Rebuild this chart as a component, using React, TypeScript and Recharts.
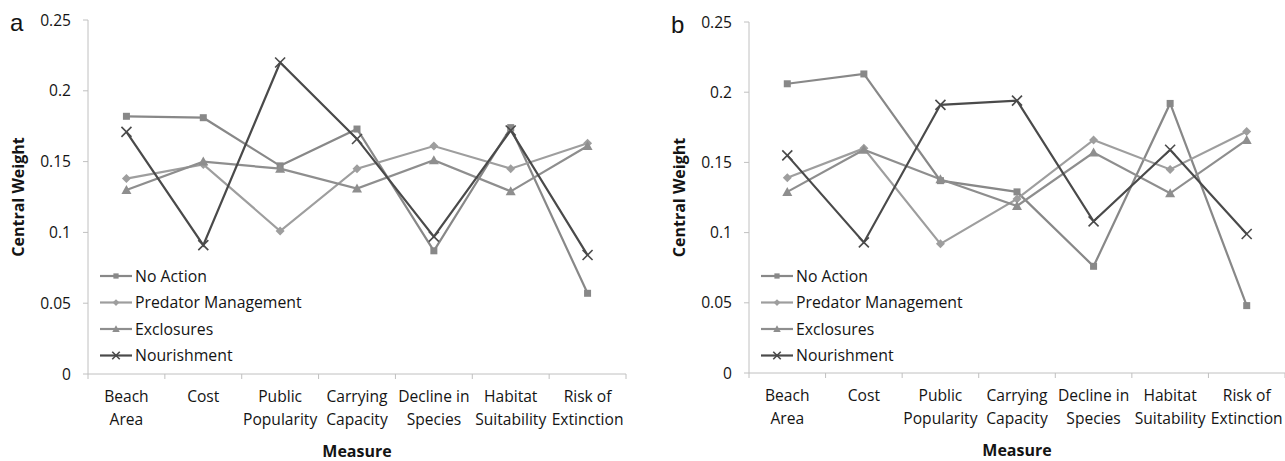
import React from "react";
import { LineChart, Line, XAxis, YAxis, Label } from "recharts";

// categories on the x axis, and how each tick label breaks into lines
const categories = [
  "Beach Area",
  "Cost",
  "Public Popularity",
  "Carrying Capacity",
  "Decline in Species",
  "Habitat Suitability",
  "Risk of Extinction",
];
const tickLines = [
  ["Beach", "Area"],
  ["Cost"],
  ["Public", "Popularity"],
  ["Carrying", "Capacity"],
  ["Decline in", "Species"],
  ["Habitat", "Suitability"],
  ["Risk of", "Extinction"],
];
const yTicks = [0, 0.05, 0.1, 0.15, 0.2, 0.25];
const seriesNames = ["No Action", "Predator Management", "Exclosures", "Nourishment"];

// panel a
const aNoAction = [0.182, 0.181, 0.147, 0.173, 0.087, 0.174, 0.057];
const aPredator = [0.138, 0.148, 0.101, 0.145, 0.161, 0.145, 0.163];
const aExclosures = [0.130, 0.150, 0.145, 0.131, 0.151, 0.129, 0.161];
const aNourishment = [0.171, 0.091, 0.220, 0.166, 0.097, 0.172, 0.084];

// panel b
const bNoAction = [0.206, 0.213, 0.137, 0.129, 0.076, 0.192, 0.048];
const bPredator = [0.139, 0.160, 0.092, 0.124, 0.166, 0.145, 0.172];
const bExclosures = [0.129, 0.159, 0.138, 0.119, 0.157, 0.128, 0.166];
const bNourishment = [0.155, 0.093, 0.191, 0.194, 0.108, 0.159, 0.099];

const FONT = "'Open Sans', sans-serif";
const AXIS = "#c0c0c0";
const TEXT = "#141414";

const KEYS = ["noAction", "predator", "exclosures", "nourishment"];
const COLORS = ["#888888", "#9e9e9e", "#8e8e8e", "#4a4a4a"];
const SHAPES = ["square", "diamond", "triangle", "cross"];

const Marker = ({ shape, cx, cy, color, s = 1 }: any) => {
  if (cx == null || cy == null) return null;
  if (shape === "square")
    return <rect x={cx - 3.5 * s} y={cy - 3.5 * s} width={7 * s} height={7 * s} fill={color} />;
  if (shape === "diamond") {
    const r = 4.5 * s;
    return (
      <polygon
        points={`${cx},${cy - r} ${cx + r},${cy} ${cx},${cy + r} ${cx - r},${cy}`}
        fill={color}
      />
    );
  }
  if (shape === "triangle")
    return (
      <polygon
        points={`${cx},${cy - 5 * s} ${cx + 5 * s},${cy + 4 * s} ${cx - 5 * s},${cy + 4 * s}`}
        fill={color}
      />
    );
  const r = 5 * s;
  return (
    <g stroke={color} strokeWidth={1.6}>
      <line x1={cx - r} y1={cy - r} x2={cx + r} y2={cy + r} />
      <line x1={cx - r} y1={cy + r} x2={cx + r} y2={cy - r} />
    </g>
  );
};

const XTick = ({ x, y, index, band, count }: any) => {
  const lines = tickLines[index] || [];
  return (
    <g>
      <line x1={x - band / 2} y1={y} x2={x - band / 2} y2={y + 5} stroke={AXIS} />
      {index === count - 1 && (
        <line x1={x + band / 2} y1={y} x2={x + band / 2} y2={y + 5} stroke={AXIS} />
      )}
      <text textAnchor="middle" fontFamily={FONT} fontSize={15.6} fill={TEXT}>
        {lines.map((l: string, i: number) => (
          <tspan key={i} x={x} y={y + 28 + i * 23}>
            {l}
          </tspan>
        ))}
      </text>
    </g>
  );
};

const Legend = ({ left, top }: { left: number; top: number }) => (
  <svg
    width={240}
    height={110}
    style={{ position: "absolute", left, top }}
  >
    {seriesNames.map((name, i) => {
      const cy = 10 + i * 26.5;
      return (
        <g key={name}>
          <line x1={0} y1={cy} x2={32} y2={cy} stroke={COLORS[i]} strokeWidth={2.2} />
          <Marker shape={SHAPES[i]} cx={16} cy={cy} color={COLORS[i]} s={0.75} />
          <text x={35} y={cy + 5.5} fontFamily={FONT} fontSize={15.8} fill={TEXT}>
            {name}
          </text>
        </g>
      );
    })}
  </svg>
);

const Panel = ({ letter, left, width, yAxisWidth, top, bottom, right, values }: any) => {
  const plotW = width - yAxisWidth - right;
  const band = plotW / categories.length;
  const data = categories.map((c, i) => ({
    measure: c,
    noAction: values[0][i],
    predator: values[1][i],
    exclosures: values[2][i],
    nourishment: values[3][i],
  }));
  return (
    <div style={{ position: "absolute", left, top: 0, width, height: 461 }}>
      <LineChart
        width={width}
        height={461}
        data={data}
        margin={{ top, right, left: 0, bottom: 0 }}
      >
        <XAxis
          dataKey="measure"
          height={461 - bottom}
          interval={0}
          tickSize={0}
          tickMargin={0}
          tickLine={false}
          axisLine={{ stroke: AXIS }}
          padding={{ left: band / 2, right: band / 2 }}
          tick={(p: any) => <XTick {...p} band={band} count={categories.length} />}
        >
          <Label
            content={({ viewBox }: any) => (
              <text
                x={viewBox.x + viewBox.width / 2}
                y={viewBox.y + 83}
                textAnchor="middle"
                fontFamily={FONT}
                fontWeight="bold"
                fontSize={16}
                fill={TEXT}
              >
                Measure
              </text>
            )}
          />
        </XAxis>
        <YAxis
          width={yAxisWidth}
          domain={[0, 0.25]}
          ticks={yTicks}
          tickSize={5}
          tickMargin={12}
          axisLine={{ stroke: AXIS }}
          tickLine={{ stroke: AXIS }}
          tick={{ fill: TEXT, fontSize: 15.6, fontFamily: FONT }}
          tickFormatter={(v: number) => String(v)}
        >
          <Label
            content={({ viewBox }: any) => {
              const ax = viewBox.x + viewBox.width;
              const cy = viewBox.y + viewBox.height / 2;
              return (
                <g>
                  <text
                    x={ax - 70}
                    y={cy}
                    transform={`rotate(-90, ${ax - 70}, ${cy})`}
                    textAnchor="middle"
                    dominantBaseline="central"
                    fontFamily={FONT}
                    fontWeight="bold"
                    fontSize={16}
                    fill={TEXT}
                  >
                    Central Weight
                  </text>
                  <text
                    x={ax - 78}
                    y={top + 11}
                    textAnchor="start"
                    fontFamily="'Liberation Sans', Arial, sans-serif"
                    fontSize={24}
                    fill={TEXT}
                  >
                    {letter}
                  </text>
                </g>
              );
            }}
          />
        </YAxis>
        {KEYS.map((k, i) => (
          <Line
            key={k}
            dataKey={k}
            name={seriesNames[i]}
            stroke={COLORS[i]}
            strokeWidth={2.2}
            isAnimationActive={false}
            dot={(p: any) => (
              <Marker key={`${k}-${p.index}`} shape={SHAPES[i]} cx={p.cx} cy={p.cy} color={COLORS[i]} />
            )}
            activeDot={false}
          />
        ))}
      </LineChart>
      <Legend left={yAxisWidth + 12} top={266} />
    </div>
  );
};

export default function App() {
  return (
    <div
      style={{
        position: "absolute",
        left: 0,
        top: 0,
        width: 1285,
        height: 461,
        background: "#fff",
      }}
    >
      <Panel
        letter="a"
        left={0}
        width={640}
        yAxisWidth={88}
        top={20}
        bottom={374}
        right={14}
        values={[aNoAction, aPredator, aExclosures, aNourishment]}
      />
      <Panel
        letter="b"
        left={640}
        width={645}
        yAxisWidth={109}
        top={22}
        bottom={373}
        right={0}
        values={[bNoAction, bPredator, bExclosures, bNourishment]}
      />
    </div>
  );
}
